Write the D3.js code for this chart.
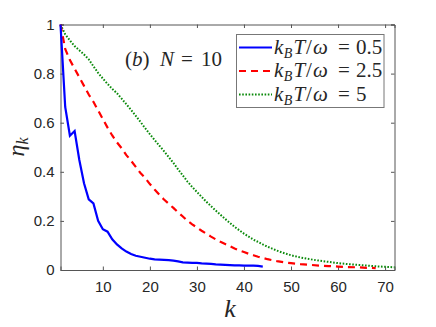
<!DOCTYPE html>
<html>
<head>
<meta charset="utf-8">
<script src="https://cdn.jsdelivr.net/npm/d3@7"></script>
<style>
  body { margin: 0; background: #fff; }
  svg text { fill: #262626; }
</style>
</head>
<body>
<div id="display"></div>
<script>
// values
var kBlue = d3.range(1, 45);
var etaBlue = [1.0, 0.664, 0.547, 0.566, 0.448, 0.353, 0.288, 0.271, 0.2, 0.166, 0.156, 0.125, 0.104, 0.088, 0.075,
  0.065, 0.058, 0.054, 0.05, 0.046, 0.043, 0.042, 0.041, 0.04, 0.038, 0.035, 0.031, 0.03, 0.029, 0.029,
  0.027, 0.026, 0.025, 0.023, 0.022, 0.021, 0.02, 0.019, 0.019, 0.018, 0.018, 0.018, 0.017, 0.014];

var kRed = [1, 2, 3, 4, 5, 6, 7, 8, 9, 10, 11, 12, 13, 14, 15, 16, 17, 18, 19, 20, 21, 22, 23, 24, 25, 26, 27,
  28, 29, 30, 31, 32, 33, 34, 35, 36, 37, 38, 39, 40, 41, 42, 43, 44, 45, 46, 47, 48, 49, 50,
  52, 54, 56, 58, 60, 62, 64, 66, 68];
var etaRed = [1.0, 0.9, 0.855, 0.82, 0.785, 0.75, 0.715, 0.685, 0.65, 0.615, 0.58, 0.548, 0.52, 0.496, 0.468,
  0.445, 0.42, 0.395, 0.375, 0.35, 0.328, 0.307, 0.287, 0.27, 0.253, 0.235, 0.218,
  0.2, 0.186, 0.173, 0.16, 0.148, 0.136, 0.125, 0.115, 0.106, 0.097, 0.088, 0.08, 0.073, 0.066, 0.06, 0.054,
  0.049, 0.044, 0.04, 0.036, 0.033, 0.03, 0.028,
  0.024, 0.021, 0.018, 0.016, 0.014, 0.012, 0.011, 0.009, 0.008];

var kGreen = [1, 2, 3, 4, 5, 6, 7, 8, 9, 10, 11, 12, 13, 14, 15, 16, 17, 18, 19, 20, 21, 22, 23, 24, 25, 26, 27,
  28, 29, 30, 31, 32, 33, 34, 35, 36, 37, 38, 39, 40, 41, 42, 43, 44, 45, 46, 47, 48, 49, 50,
  52, 54, 56, 58, 60, 62, 64, 66, 68, 70, 72];
var etaGreen = [1.0, 0.96, 0.935, 0.912, 0.895, 0.878, 0.858, 0.83, 0.803, 0.78, 0.758, 0.738, 0.72, 0.698, 0.675,
  0.652, 0.628, 0.603, 0.578, 0.553, 0.53, 0.507, 0.484, 0.46, 0.436, 0.41, 0.385,
  0.36, 0.338, 0.318, 0.298, 0.278, 0.26, 0.242, 0.225, 0.208, 0.192, 0.176, 0.162, 0.148, 0.136, 0.124, 0.114,
  0.104, 0.095, 0.087, 0.079, 0.072, 0.066, 0.06,
  0.051, 0.044, 0.038, 0.033, 0.028, 0.024, 0.021, 0.018, 0.015, 0.013, 0.011];

var xTicks = [10, 20, 30, 40, 50, 60, 70];
var yTicks = [0, 0.2, 0.4, 0.6, 0.8, 1];
var legendVals = ["0.5", "2.5", "5"];

// layout
var width = 436, height = 327;
var margin = {top: 24.5, right: 41.5, bottom: 57, left: 60.5};
var w = width - margin.left - margin.right,
    h = height - margin.top - margin.bottom;

var svg = d3.select("#display")
  .append("svg")
    .attr("width", width)
    .attr("height", height);

var g = svg.append("g")
    .attr("transform", "translate(" + margin.left + "," + margin.top + ")");

var x = d3.scaleLinear().domain([1, 72]).range([0, w]);
var y = d3.scaleLinear().domain([0, 1]).range([h, 0]);

var tickFont = "Liberation Sans, Arimo, Arial, sans-serif";
var mathFont = "Liberation Serif, DejaVu Serif, serif";
var axisCol = "#555";

// axes, ticks inside (MATLAB box style)
var tl = 3.5;
g.append("g")
  .attr("transform", "translate(0," + h + ")")
  .call(d3.axisBottom(x).tickValues(xTicks).tickSize(-tl).tickPadding(11).tickFormat(d3.format("d")));
g.append("g")
  .call(d3.axisTop(x).tickValues(xTicks).tickSize(-tl).tickFormat(""));
g.append("g")
  .call(d3.axisLeft(y).tickValues(yTicks).tickSize(-tl).tickPadding(6).tickFormat(function(d){ return d; }));
g.append("g")
  .attr("transform", "translate(" + w + ",0)")
  .call(d3.axisRight(y).tickValues(yTicks).tickSize(-tl).tickFormat(""));

g.selectAll(".domain").attr("stroke", axisCol).attr("stroke-width", 1);
g.selectAll(".tick line").attr("stroke", axisCol);
g.selectAll(".tick text")
  .attr("font-family", tickFont)
  .attr("font-size", 15)
  .attr("fill", "#262626");

// curves
var line = d3.line()
  .x(function(d){ return x(d[0]); })
  .y(function(d){ return y(d[1]); });

var series = [
  {k: kGreen, v: etaGreen, color: "#0b8a0b", width: 2, dash: "1.6,1.6"},
  {k: kRed, v: etaRed, color: "#ff0000", width: 2.2, dash: "7,5"},
  {k: kBlue, v: etaBlue, color: "#0000ff", width: 2.2, dash: null}
];

var plot = g.append("g");
series.forEach(function(s){
  plot.append("path")
    .datum(d3.zip(s.k, s.v))
    .attr("fill", "none")
    .attr("stroke", s.color)
    .attr("stroke-width", s.width)
    .attr("stroke-dasharray", s.dash)
    .attr("d", line);
});

// annotation "(b)  N = 10", spaced like LaTeX
var ann = svg.append("text")
  .attr("y", 66)
  .attr("font-family", mathFont)
  .attr("font-size", 21);
ann.append("tspan").attr("x", 125).text("(");
ann.append("tspan").attr("font-style", "italic").text("b");
ann.append("tspan").text(")");
ann.append("tspan").attr("x", 160).attr("font-style", "italic").text("N");
ann.append("tspan").attr("x", 181).text("=");
ann.append("tspan").attr("x", 201).text("10");

// legend
var lx = 236.5, ly = 34.5, lw = 147.5, lh = 73;
svg.append("rect")
  .attr("x", lx).attr("y", ly).attr("width", lw).attr("height", lh)
  .attr("fill", "#fff").attr("stroke", "#777").attr("stroke-width", 1);

var legendSeries = [series[2], series[1], series[0]];
legendSeries.forEach(function(s, i){
  var cy = 47.5 + i * 23.5;
  svg.append("line")
    .attr("x1", 239).attr("x2", 272)
    .attr("y1", cy).attr("y2", cy)
    .attr("stroke", s.color)
    .attr("stroke-width", s.width)
    .attr("stroke-dasharray", s.dash);
  var t = svg.append("text")
    .attr("y", cy + 6)
    .attr("font-family", mathFont)
    .attr("font-size", 21);
  t.append("tspan").attr("x", 274).attr("font-style", "italic").text("k");
  t.append("tspan").attr("dx", 0.5).attr("dy", 4).attr("font-size", 14).attr("font-style", "italic").text("B");
  t.append("tspan").attr("dx", 1).attr("dy", -4).attr("font-style", "italic").text("T");
  t.append("tspan").attr("dx", 1).text("/");
  t.append("tspan").attr("dx", 1).attr("font-style", "italic").text("\u03C9");
  t.append("tspan").attr("x", 338).text("=");
  t.append("tspan").attr("x", 356).text(legendVals[i]);
});

// axis labels
svg.append("text")
  .attr("x", 230).attr("y", 317)
  .attr("text-anchor", "middle")
  .attr("font-family", mathFont)
  .attr("font-style", "italic")
  .attr("font-size", 26)
  .text("k");

var yl = svg.append("text")
  .attr("transform", "translate(24,147) rotate(-90)")
  .attr("text-anchor", "middle")
  .attr("font-family", mathFont)
  .attr("font-style", "italic")
  .attr("font-size", 24);
yl.append("tspan").text("\u03B7");
yl.append("tspan").attr("dy", 4).attr("font-size", 16).text("k");
</script>
</body>
</html>
